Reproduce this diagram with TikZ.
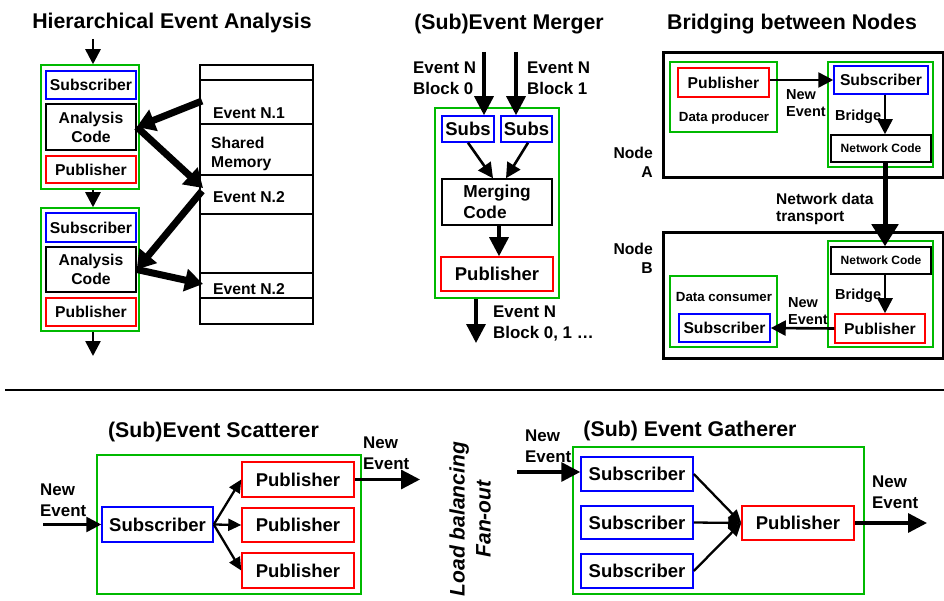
\documentclass[tikz,border=0pt]{standalone}
\usepackage{fontspec}
\setmainfont{Liberation Sans}
\usetikzlibrary{arrows.meta}
\definecolor{gbox}{RGB}{0,185,0}
\definecolor{bbox}{RGB}{0,0,255}
\definecolor{rbox}{RGB}{255,0,0}
\newcommand{\ftitle}{\fontsize{21.3}{25}\selectfont\bfseries}
\newcommand{\fmed}{\fontsize{15.7}{19}\selectfont\bfseries}
\newcommand{\fbig}{\fontsize{18.5}{21}\selectfont\bfseries}
\newcommand{\flab}{\fontsize{16.9}{21}\selectfont\bfseries}
\newcommand{\fbr}{\fontsize{14.5}{17}\selectfont\bfseries}
\newcommand{\fsm}{\fontsize{12}{14}\selectfont\bfseries}
\newcommand{\fdp}{\fontsize{13.3}{16}\selectfont\bfseries}
\tikzset{
  bx/.style={draw, line width=1.5pt, inner sep=0pt, align=center},
  gbx/.style={bx, draw=gbox},
  bbx/.style={bx, draw=bbox},
  rbx/.style={bx, draw=rbox},
  kbx/.style={bx, draw=black},
  nodebx/.style={draw, line width=3pt, inner sep=0pt},
  cell/.style={draw, line width=1.5pt, inner sep=0pt, minimum width=113pt},
  lab/.style={inner sep=0pt, align=left},
  arr/.style={line width=2.6pt, -{Triangle[length=15pt,width=15pt]}},
  thinarr/.style={line width=2.3pt, -{Triangle[length=13pt,width=12pt]}},
  bigarr/.style={line width=3.3pt, -{Triangle[length=19pt,width=19pt]}},
  tharr/.style={line width=7pt, -{Triangle[length=18pt,width=22pt]}},
  netarr/.style={line width=5pt, -{Triangle[length=22pt,width=26pt]}},
}
\begin{document}
\begin{tikzpicture}[x=1pt,y=-1pt]
\useasboundingbox (0,0) rectangle (944,601);

% titles
\node[font=\ftitle] (t1) at (172,23) {Hierarchical Event Analysis};
\node[font=\ftitle] (t2) at (509,24) {(Sub)Event Merger};
\node[font=\ftitle] (t3) at (792,24) {Bridging between Nodes};
\node[font=\ftitle] (t4) at (213.5,432) {(Sub)Event Scatterer};
\node[font=\ftitle] (t5) at (690,431) {(Sub) Event Gatherer};

% ---------- Hierarchical Event Analysis ----------
\node[gbx, minimum width=98pt, minimum height=124pt] (hg1) at (90,127) {};
\node[bbx, minimum width=90pt, minimum height=28pt, font=\fmed] (hs1) at (91,85) {Subscriber};
\node[kbx, minimum width=90pt, minimum height=46pt, font=\fmed] (ha1) at (91,127) {Analysis\\Code};
\node[rbx, minimum width=90pt, minimum height=27pt, font=\fmed] (hp1) at (91,169.5) {Publisher};
\node[gbx, minimum width=98pt, minimum height=123pt] (hg2) at (90,269.5) {};
\node[bbx, minimum width=90pt, minimum height=29pt, font=\fmed] (hs2) at (91,227.5) {Subscriber};
\node[kbx, minimum width=90pt, minimum height=45pt, font=\fmed] (ha2) at (91,269.5) {Analysis\\Code};
\node[rbx, minimum width=90pt, minimum height=28pt, font=\fmed] (hp2) at (91,312) {Publisher};
\coordinate (hin) at (93,39);
\coordinate (hout) at (93,356);
\draw[arr] (hin) -- (hin |- hg1.north);
\draw[arr] (hin |- hg1.south) -- (hin |- hg2.north);
\draw[arr] (hin |- hg2.south) -- (hout);

% shared memory
\node[cell, minimum height=15pt] (m0) at (256.5,72.5) {};
\node[cell, minimum height=44pt] (m1) at (256.5,102) {};
\node[cell, minimum height=51pt] (m2) at (256.5,149.5) {};
\node[cell, minimum height=39pt] (m3) at (256.5,194.5) {};
\node[cell, minimum height=59pt] (m4) at (256.5,243.5) {};
\node[cell, minimum height=25pt] (m5) at (256.5,285.5) {};
\node[cell, minimum height=26pt] (m6) at (256.5,311) {};
\node[lab, anchor=west, font=\fmed] (l1) at (213,113) {Event N.1};
\node[lab, anchor=west, font=\fmed] (l2) at (211,153.5) {Shared\\Memory};
\node[lab, anchor=west, font=\fmed] (l3) at (213,197) {Event N.2};
\node[lab, anchor=west, font=\fmed] (l4) at (213,289) {Event N.2};
\coordinate (e1o) at (202,101);
\coordinate (e2i) at (203,188);
\coordinate (e2o) at (202,191);
\coordinate (e3i) at (203,284);
\draw[tharr] (e1o) -- (ha1.east);
\draw[tharr] (ha1.east) -- (e2i);
\draw[tharr] (e2o) -- (ha2.east);
\draw[tharr] (ha2.east) -- (e3i);

% ---------- (Sub)Event Merger ----------
\node[gbx, minimum width=124pt, minimum height=190pt] (mg) at (497,203) {};
\node[bbx, minimum width=52pt, minimum height=26pt, font=\fbig] (ms1) at (468,129) {Subs};
\node[bbx, minimum width=51pt, minimum height=26pt, font=\fbig] (ms2) at (526.5,129) {Subs};
\node[kbx, minimum width=110pt, minimum height=46pt, font=\fontsize{17.3}{21}\selectfont\bfseries, align=left] (mc) at (497,202) {Merging\\Code};
\node[rbx, minimum width=112pt, minimum height=34pt, font=\fbig] (mp) at (497,274) {Publisher};
\coordinate (min1) at (484,52);
\coordinate (min2) at (516,52);
\coordinate (mout) at (476,343);
\draw[bigarr] (min1) -- (min1 |- ms1.north);
\draw[bigarr] (min2) -- (min2 |- ms2.north);
\draw[arr] (ms1.south) -- ([xshift=-4pt]mc.north);
\draw[arr] ([xshift=1.5pt]ms2.south) -- ([xshift=9pt]mc.north);
\draw[bigarr] ([xshift=2pt]mc.south) -- ([xshift=2pt]mp.north);
\draw[bigarr] (mout |- mg.south) -- (mout);
\node[lab, anchor=west, font=\flab] (ml1) at (413,78.5) {Event N\\Block 0};
\node[lab, anchor=west, font=\flab] (ml2) at (527,78.5) {Event N\\Block 1};
\node[lab, anchor=west, font=\flab] (ml3) at (493,323) {Event N\\Block 0, 1 …};

% ---------- Bridging between Nodes ----------
\node[nodebx, minimum width=280pt, minimum height=125pt] (na) at (803,115.5) {};
\node[gbx, minimum width=107pt, minimum height=70pt] (dp) at (723.5,97) {};
\node[rbx, minimum width=91pt, minimum height=29pt, font=\fmed] (pa) at (723.5,82.5) {Publisher};
\node[font=\fdp, inner sep=0pt] (dpl) at (724,118) {Data producer};
\node[gbx, minimum width=105pt, minimum height=105pt] (ba) at (880.5,114.5) {};
\node[bbx, minimum width=94pt, minimum height=28pt, font=\fmed] (sa) at (881,80) {Subscriber};
\node[kbx, minimum width=100pt, minimum height=27pt, font=\fsm] (nca) at (881,148.5) {Network Code};
\draw[arr] (pa.east |- sa.west) -- (sa.west);
\draw[arr] ([xshift=4pt]sa.south) -- ([xshift=4pt]nca.north);
\node[lab, anchor=west, font=\fbr] (nea) at (786,103.5) {New\\Event};
\node[lab, anchor=west, font=\fbr] (bra) at (835,117) {Bridge};
\node[inner sep=0pt, anchor=east, align=right, font=\fmed] (nal) at (653,162) {Node\\A};

\node[nodebx, minimum width=280pt, minimum height=125pt] (nb) at (803,295.5) {};
\node[gbx, minimum width=105pt, minimum height=106pt] (bb) at (880.5,294) {};
\node[kbx, minimum width=100pt, minimum height=27pt, font=\fsm] (ncb) at (881,260.5) {Network Code};
\node[rbx, minimum width=90pt, minimum height=29pt, font=\fmed] (pb) at (880,328.5) {Publisher};
\node[gbx, minimum width=107pt, minimum height=71pt] (dc) at (723.5,311.5) {};
\node[font=\fdp, inner sep=0pt] (dcl) at (724,297) {Data consumer};
\node[bbx, minimum width=91pt, minimum height=28pt, font=\fmed] (sb) at (724.5,328) {Subscriber};
\draw[arr] ([xshift=4pt]ncb.south) -- ([xshift=5pt]pb.north);
\draw[arr] (pb.west) -- (sb.east);
\node[lab, anchor=west, font=\fbr] (neb) at (788,311.5) {New\\Event};
\node[lab, anchor=west, font=\fbr] (brb) at (835,296) {Bridge};
\node[inner sep=0pt, anchor=east, align=right, font=\fmed] (nbl) at (653,258) {Node\\B};
\draw[netarr] ([xshift=4pt]nca.south) -- ([xshift=4pt]ncb.north);
\node[lab, anchor=west, font=\fontsize{15.5}{17}\selectfont\bfseries] (ndt) at (776,208.5) {Network data\\transport};

% separator
\coordinate (sepL) at (5,390);
\coordinate (sepR) at (944,390);
\draw[line width=2pt] (sepL) -- (sepR);

% ---------- (Sub)Event Scatterer ----------
\node[gbx, minimum width=264pt, minimum height=139pt] (sg) at (229,524.5) {};
\node[bbx, minimum width=111pt, minimum height=35pt, font=\fbig] (ss) at (157.5,524.5) {Subscriber};
\node[rbx, minimum width=112pt, minimum height=35pt, font=\fbig] (sp1) at (298,479.5) {Publisher};
\node[rbx, minimum width=112pt, minimum height=34pt, font=\fbig] (sp2) at (298,525) {Publisher};
\node[rbx, minimum width=112pt, minimum height=35pt, font=\fbig] (sp3) at (298,570.5) {Publisher};
\coordinate (sin) at (43,524.5);
\coordinate (sout) at (420,479.5);
\draw[arr] (sin) -- (ss.west);
\draw[thinarr] (ss.east) -- (sp1.west);
\draw[thinarr] (ss.east) -- (sp2.west);
\draw[thinarr] (ss.east) -- (sp3.west);
\draw[bigarr] (sp1.east) -- (sout);
\node[lab, anchor=west, font=\flab] (sinl) at (40,500.5) {New\\Event};
\node[lab, anchor=west, font=\flab] (soutl) at (363,453) {New\\Event};

% Load balancing
\node[rotate=90, align=center, inner sep=0pt, font=\fontsize{21}{26}\selectfont\bfseries\itshape] (lb) at (470,519) {Load balancing\\Fan-out};

% ---------- (Sub) Event Gatherer ----------
\node[gbx, minimum width=291pt, minimum height=147pt] (gg) at (718.5,520.5) {};
\node[bbx, minimum width=112pt, minimum height=34pt, font=\fbig] (gs1) at (637,474) {Subscriber};
\node[bbx, minimum width=112pt, minimum height=33pt, font=\fbig] (gs2) at (637,522.5) {Subscriber};
\node[bbx, minimum width=112pt, minimum height=34pt, font=\fbig] (gs3) at (637,571) {Subscriber};
\node[rbx, minimum width=112pt, minimum height=34pt, font=\fbig] (gp) at (798,523) {Publisher};
\coordinate (gin) at (517,472);
\coordinate (gout) at (927,523);
\draw[bigarr] (gin) -- (gin -| gs1.west);
\draw[thinarr] (gs1.east) -- (gp.west);
\draw[thinarr] (gs2.east) -- (gp.west);
\draw[thinarr] (gs3.east) -- (gp.west);
\draw[bigarr] (gp.east) -- (gout);
\node[lab, anchor=west, font=\flab] (ginl) at (525,446) {New\\Event};
\node[lab, anchor=west, font=\flab] (goutl) at (872,492.5) {New\\Event};
\end{tikzpicture}
\end{document}
